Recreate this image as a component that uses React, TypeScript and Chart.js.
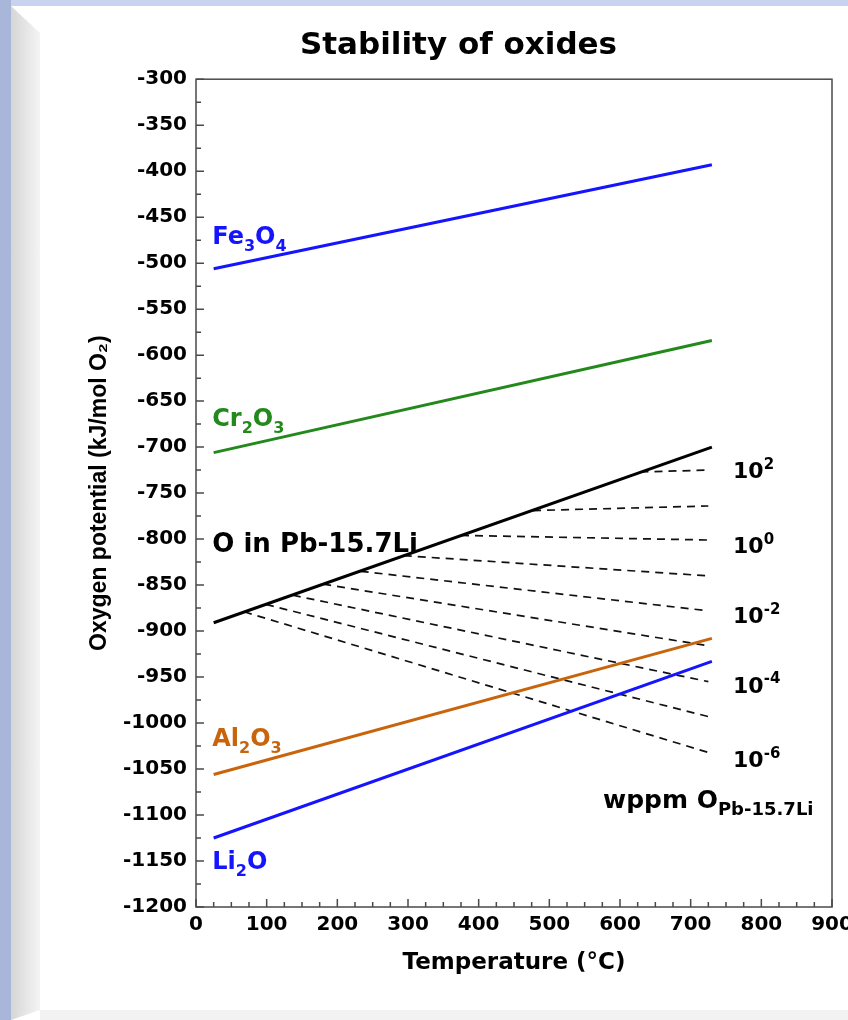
import React, { useEffect, useRef } from "react";
import { Chart, registerables } from "chart.js";

Chart.register(...registerables);

// ---- data ----
const lineTemps = [25, 730]; // °C, end points of the oxide / O-in-PbLi lines
const fe3o4 = [-506, -393];
const cr2o3 = [-706, -584];
const oInPbLi = [-891, -700];
const al2o3 = [-1056, -908];
const li2o = [-1125, -933];

// iso-concentration (wppm O) dashed lines: start on the O-in-Pb-15.7Li line, end at 725 °C
const isoStartTemps = [629, 477, 375, 294, 233, 180, 137, 99, 68];
const isoStartPot = [-727, -769, -796, -818, -835, -849, -861, -871, -879];
const isoEndTemp = 725;
const isoEndPot = [-725, -764, -801, -840, -878, -916, -955, -993, -1032];

const xTicks = [0, 100, 200, 300, 400, 500, 600, 700, 800, 900];
const yTicks = [-1200, -1150, -1100, -1050, -1000, -950, -900, -850, -800, -750, -700, -650, -600, -550, -500, -450, -400, -350, -300];

const BLUE = "#1414ff";
const GREEN = "#23891c";
const ORANGE = "#c8650c";
const BLACK = "#000000";

type Part = { t: string; k: "n" | "sub" | "sup" };
type Label = { x: number; y: number; color: string; size: number; small?: number; parts: Part[] };

const labels: Label[] = [
  { x: 23, y: -479, color: BLUE, size: 24, parts: [{ t: "Fe", k: "n" }, { t: "3", k: "sub" }, { t: "O", k: "n" }, { t: "4", k: "sub" }] },
  { x: 23, y: -677, color: GREEN, size: 24, parts: [{ t: "Cr", k: "n" }, { t: "2", k: "sub" }, { t: "O", k: "n" }, { t: "3", k: "sub" }] },
  { x: 23, y: -814, color: BLACK, size: 26, parts: [{ t: "O in Pb-15.7Li", k: "n" }] },
  { x: 23, y: -1025, color: ORANGE, size: 24, parts: [{ t: "Al", k: "n" }, { t: "2", k: "sub" }, { t: "O", k: "n" }, { t: "3", k: "sub" }] },
  { x: 23, y: -1159, color: BLUE, size: 24, parts: [{ t: "Li", k: "n" }, { t: "2", k: "sub" }, { t: "O", k: "n" }] },
  { x: 760, y: -734, color: BLACK, size: 22, parts: [{ t: "10", k: "n" }, { t: "2", k: "sup" }] },
  { x: 760, y: -815, color: BLACK, size: 22, parts: [{ t: "10", k: "n" }, { t: "0", k: "sup" }] },
  { x: 760, y: -891, color: BLACK, size: 22, parts: [{ t: "10", k: "n" }, { t: "-2", k: "sup" }] },
  { x: 760, y: -967, color: BLACK, size: 22, parts: [{ t: "10", k: "n" }, { t: "-4", k: "sup" }] },
  { x: 760, y: -1048, color: BLACK, size: 22, parts: [{ t: "10", k: "n" }, { t: "-6", k: "sup" }] },
  { x: 576, y: -1092, color: BLACK, size: 25, small: 0.72, parts: [{ t: "wppm O", k: "n" }, { t: "Pb-15.7Li", k: "sub" }] },
];

const FONT = '"DejaVu Sans", sans-serif';

const framePlugin = {
  id: "frameTicks",
  afterDraw(chart: any) {
    const { ctx, chartArea: a, scales } = chart;
    const xs = scales.x;
    const ys = scales.y;
    ctx.save();
    ctx.strokeStyle = "#4a4a4a";
    ctx.lineWidth = 1.5;
    ctx.strokeRect(a.left, a.top, a.right - a.left, a.bottom - a.top);
    ctx.beginPath();
    for (let v = 0; v <= 900; v += 25) {
      const px = xs.getPixelForValue(v);
      const len = v % 100 === 0 ? 8 : 5;
      ctx.moveTo(px, a.bottom);
      ctx.lineTo(px, a.bottom - len);
    }
    for (let v = -1200; v <= -300; v += 25) {
      const py = ys.getPixelForValue(v);
      const len = v % 50 === 0 ? 8 : 5;
      ctx.moveTo(a.left, py);
      ctx.lineTo(a.left + len, py);
    }
    ctx.stroke();

    ctx.textBaseline = "alphabetic";
    ctx.textAlign = "left";
    for (const L of labels) {
      let cx = xs.getPixelForValue(L.x);
      const cy = ys.getPixelForValue(L.y);
      ctx.fillStyle = L.color;
      for (const p of L.parts) {
        const fs = p.k === "n" ? L.size : Math.round(L.size * (L.small ?? 0.66));
        ctx.font = `bold ${fs}px ${FONT}`;
        const dy = p.k === "sub" ? L.size * 0.3 : p.k === "sup" ? -L.size * 0.42 : 0;
        ctx.fillText(p.t, cx, cy + dy);
        cx += ctx.measureText(p.t).width;
      }
    }
    ctx.restore();
  },
};

function seg(xs: number[], ys: number[]) {
  return xs.map((x, i) => ({ x, y: ys[i] }));
}

export default function App() {
  const ref = useRef<HTMLCanvasElement | null>(null);
  useEffect(() => {
    if (!ref.current) return;
    const solid = (data: any, color: string) => ({
      data,
      borderColor: color,
      backgroundColor: color,
      borderWidth: 3,
      showLine: true,
      pointRadius: 0,
      tension: 0,
    });
    const datasets: any[] = [
      solid(seg(lineTemps, fe3o4), BLUE),
      solid(seg(lineTemps, cr2o3), GREEN),
      solid(seg(lineTemps, oInPbLi), BLACK),
      solid(seg(lineTemps, al2o3), ORANGE),
      solid(seg(lineTemps, li2o), BLUE),
    ];
    isoStartTemps.forEach((t, i) => {
      datasets.push({
        data: [
          { x: t, y: isoStartPot[i] },
          { x: isoEndTemp, y: isoEndPot[i] },
        ],
        borderColor: "#111111",
        borderWidth: 1.7,
        borderDash: [8, 6],
        showLine: true,
        pointRadius: 0,
      });
    });
    const tickFont = { family: FONT, weight: "bold" as const, size: 20 };
    const chart = new Chart(ref.current, {
      type: "scatter",
      data: { datasets },
      options: {
        animation: false,
        responsive: false,
        devicePixelRatio: 1,
        layout: { padding: { left: 85, right: 38, top: 0, bottom: 41 } },
        plugins: {
          legend: { display: false },
          tooltip: { enabled: false },
          title: {
            display: true,
            text: "Stability of oxides",
            color: "#000",
            font: { family: FONT, weight: "bold", size: 31 },
            padding: { top: 27, bottom: 15 },
          },
        },
        scales: {
          x: {
            type: "linear",
            min: 0,
            max: 900,
            afterFit: (s: any) => {
              s.height = 72;
            },
            afterBuildTicks: (s: any) => {
              s.ticks = xTicks.map((v) => ({ value: v }));
            },
            ticks: { color: "#000", font: tickFont, padding: 6, maxRotation: 0, autoSkip: false, callback: (v: any) => String(v) },
            grid: { display: false, drawTicks: false },
            border: { display: false },
            title: {
              display: true,
              text: "Temperature (°C)",
              color: "#000",
              font: { family: FONT, weight: "bold", size: 23 },
              padding: { top: 2, bottom: 2 },
            },
          },
          y: {
            type: "linear",
            min: -1200,
            max: -300,
            afterFit: (s: any) => {
              s.width = 111;
            },
            afterBuildTicks: (s: any) => {
              s.ticks = yTicks.map((v) => ({ value: v }));
            },
            ticks: { color: "#000", font: tickFont, padding: 9, autoSkip: false, callback: (v: any) => String(v) },
            grid: { display: false, drawTicks: false },
            border: { display: false },
            title: {
              display: true,
              text: "Oxygen potential (kJ/mol O₂)",
              color: "#000",
              font: { family: '"Liberation Sans", Arial, sans-serif', weight: "bold", size: 23 },
              padding: { top: 1, bottom: 1 },
            },
          },
        },
      } as any,
      plugins: [framePlugin],
    });
    return () => chart.destroy();
  }, []);

  return (
    <div style={{ position: "fixed", left: 0, top: 0, width: 848, height: 1020, overflow: "hidden", background: "#ffffff" }}>
      <div style={{ position: "absolute", left: 0, top: 0, width: 848, height: 6, background: "#c7d3ef" }} />
      <div style={{ position: "absolute", left: 0, top: 0, width: 11, height: 1020, background: "#a8b7d9" }} />
      <div
        style={{
          position: "absolute",
          left: 11,
          top: 6,
          width: 29,
          height: 1014,
          background: "linear-gradient(to right, #d6d6d6, #f4f4f4)",
          clipPath: "polygon(0 0, 100% 27px, 100% calc(100% - 10px), 0 100%)",
        }}
      />
      <div style={{ position: "absolute", left: 40, top: 1010, width: 808, height: 10, background: "#f2f2f2" }} />
      <canvas ref={ref} width={870} height={1020} style={{ position: "absolute", left: 0, top: 0, width: 870, height: 1020 }} />
    </div>
  );
}
